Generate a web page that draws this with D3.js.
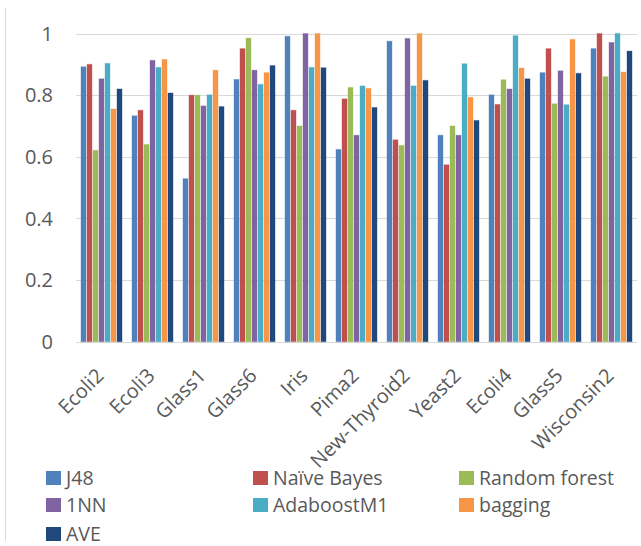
<!DOCTYPE html>
<html>
<head>
<meta charset="utf-8">
<script src="https://cdn.jsdelivr.net/npm/d3@7"></script>
<style>
  html, body { margin: 0; padding: 0; background: #fff; }
  svg { display: block; }
</style>
</head>
<body>
<svg id="chart" width="641" height="546"></svg>
<script>
const categories = ["Ecoli2","Ecoli3","Glass1","Glass6","Iris","Pima2","New-Thyroid2","Yeast2","Ecoli4","Glass5","Wisconsin2"];
const seriesNames = ["J48","Naïve Bayes","Random forest","1NN","AdaboostM1","bagging","AVE"];
const seriesColors = ["#4F81BD","#C0504D","#9BBB59","#8064A2","#4BACC6","#F79646","#1F497D"];

const J48          = [0.892,0.733,0.529,0.851,0.991,0.624,0.975,0.670,0.801,0.873,0.951];
const NaiveBayes   = [0.900,0.751,0.800,0.951,0.751,0.788,0.655,0.574,0.770,0.951,1.000];
const RandomForest = [0.621,0.640,0.800,0.985,0.700,0.825,0.637,0.700,0.850,0.772,0.860];
const OneNN        = [0.853,0.913,0.765,0.881,1.000,0.670,0.984,0.670,0.820,0.879,0.971];
const AdaboostM1   = [0.903,0.890,0.801,0.835,0.890,0.830,0.830,0.902,0.993,0.769,1.000];
const Bagging      = [0.755,0.916,0.881,0.873,1.000,0.822,1.000,0.793,0.888,0.981,0.875];
const AVE          = [0.820,0.807,0.763,0.896,0.889,0.760,0.848,0.718,0.853,0.871,0.943];

const yTicks = [0, 0.2, 0.4, 0.6, 0.8, 1];
const yTickLabels = ["0","0.2","0.4","0.6","0.8","1"];

const seriesValues = [J48, NaiveBayes, RandomForest, OneNN, AdaboostM1, Bagging, AVE];

const svg = d3.select("#chart");
const font = "'Open Sans', Lato, sans-serif";

// outer frame line (left edge)
svg.append("line")
  .attr("x1", 5.5).attr("x2", 5.5).attr("y1", 8).attr("y2", 541)
  .attr("stroke", "#d9d9d9").attr("stroke-width", 1);

const x0 = d3.scaleBand().domain(categories).range([76, 637]).paddingInner(0.176).paddingOuter(0.088);
const x1 = d3.scaleBand().domain(seriesNames).range([0, x0.bandwidth()]);
const y = d3.scaleLinear().domain([0, 1]).range([341.7, 33.5]);

// gridlines
svg.append("g").selectAll("line").data(yTicks).join("line")
  .attr("x1", 76).attr("x2", 637)
  .attr("y1", d => Math.round(y(d)) + 0.5).attr("y2", d => Math.round(y(d)) + 0.5)
  .attr("stroke", "#d9d9d9").attr("stroke-width", 1.2);

// y tick labels
svg.append("g").selectAll("text").data(yTicks).join("text")
  .attr("x", 53).attr("y", d => y(d))
  .attr("dy", "0.36em")
  .attr("text-anchor", "end")
  .attr("font-family", font).attr("font-size", 20)
  .attr("fill", "#595959")
  .text((d, i) => yTickLabels[i]);

// bars
const groups = svg.append("g").selectAll("g").data(categories).join("g")
  .attr("transform", d => `translate(${x0(d)},0)`);

groups.selectAll("rect")
  .data((cat, ci) => seriesNames.map((s, si) => ({ s, si, v: seriesValues[si][ci] })))
  .join("rect")
  .attr("x", d => x1(d.s) + 0.5)
  .attr("y", d => y(d.v))
  .attr("width", x1.bandwidth() - 1)
  .attr("height", d => y(0) - y(d.v))
  .attr("fill", d => seriesColors[d.si])
  .attr("stroke", d => seriesColors[d.si])
  .attr("stroke-opacity", 0.35)
  .attr("stroke-width", 1);

// x labels
svg.append("g").selectAll("text").data(categories).join("text")
  .attr("transform", d => `translate(${x0(d) + x0.bandwidth() / 2 + 3.5},377) rotate(-45)`)
  .attr("text-anchor", "end")
  .attr("font-family", font).attr("font-size", 20)
  .attr("fill", "#595959")
  .text(d => d);

// legend
const legendCols = [46, 253, 459];
const legendRows = [478, 505, 534];
const legend = svg.append("g").selectAll("g").data(seriesNames).join("g")
  .attr("transform", (d, i) => `translate(${legendCols[i % 3]},${legendRows[Math.floor(i / 3)]})`);
legend.append("rect")
  .attr("x", 0).attr("y", -7).attr("width", 15).attr("height", 14)
  .attr("fill", (d, i) => seriesColors[i]);
legend.append("text")
  .attr("x", 20).attr("y", 0).attr("dy", "0.36em")
  .attr("font-family", font).attr("font-size", 19.5)
  .attr("fill", "#595959")
  .text(d => d);
</script>
</body>
</html>
